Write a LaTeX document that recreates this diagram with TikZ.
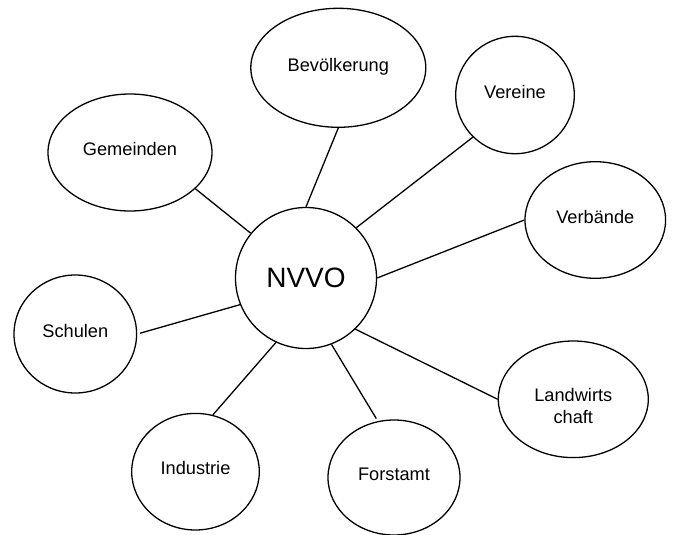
\documentclass[tikz,border=0pt]{standalone}
\usepackage{fontspec}
\setmainfont{Liberation Sans}
\usetikzlibrary{shapes.geometric}
\begin{document}
\begin{tikzpicture}[x=1pt,y=-1pt,
  bubble/.style={ellipse,draw,line width=1.3pt,inner sep=0pt,
    font=\fontsize{18.2}{21.7}\selectfont,text height=10pt,text depth=3.6pt},
  hub/.style={circle,draw,line width=1.3pt,inner sep=0pt,minimum size=141pt,
    font=\fontsize{28}{32}\selectfont},
  link/.style={line width=1.3pt}]
\useasboundingbox (0,0) rectangle (675,535);
\node[hub] (nvvo) at (306,278) {NVVO};
\node[bubble,minimum width=164pt,minimum height=117pt] (gem) at (130,152.5) {Gemeinden};
\node[bubble,minimum width=175pt,minimum height=119pt] (bev) at (338.3,67.8) {Bevölkerung};
\node[bubble,minimum width=118.6pt,minimum height=117.4pt] (ver) at (515,95) {Vereine};
\node[bubble,minimum width=140.6pt,minimum height=116.6pt] (verb) at (595.3,220) {Verbände};
\node[bubble,minimum width=122.6pt,minimum height=118pt] (sch) at (75.3,334) {Schulen};
\node[bubble,minimum width=150pt,minimum height=116.6pt,align=center,text height=48pt,text depth=0pt] (land) at (573.3,399.3) {Landwirts\\chaft};
\node[bubble,minimum width=127.6pt,minimum height=116.6pt] (ind) at (195.5,471.7) {Industrie};
\node[bubble,minimum width=132pt,minimum height=115pt] (forst) at (394,477.5) {Forstamt};
\draw[link] (gem.-29.3) -- (nvvo.141.9);
\draw[link] (bev.-90) -- (nvvo.90);
\draw[link] (ver.-135.5) -- (nvvo.45.7);
\draw[link] (verb.180) -- (nvvo.0);
\draw[link,shorten <=3pt] (sch.0) -- (nvvo.202.6);
\draw[link] (ind.73.6) -- (nvvo.-115.1);
\draw[link,shorten <=3pt] (forst.106.9) -- (nvvo.-69.1);
\draw[link] (land.180) -- (nvvo.-46.3);
\end{tikzpicture}
\end{document}
